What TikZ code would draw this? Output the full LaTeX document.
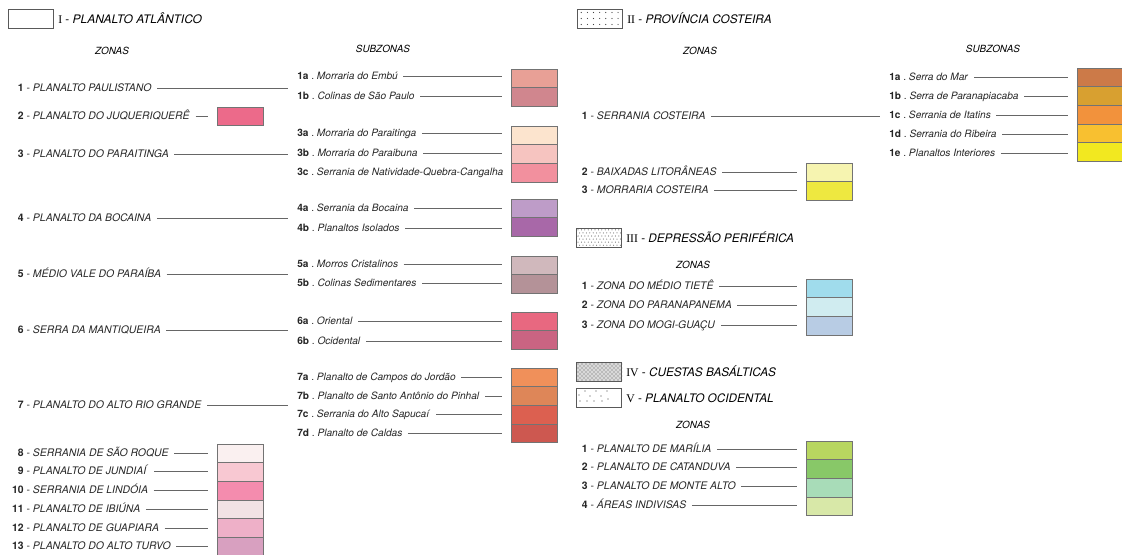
\documentclass[tikz,border=0pt]{standalone}
\usepackage{fontspec}
\setmainfont{TeX Gyre Heros}
\newfontfamily\romfont{Liberation Serif}
\usetikzlibrary{positioning,patterns}

% cores das unidades
\definecolor{cIa}{RGB}{232,160,150}
\definecolor{cIb}{RGB}{208,134,142}
\definecolor{cIdois}{RGB}{236,106,138}
\definecolor{cIIIa}{RGB}{252,228,206}
\definecolor{cIIIb}{RGB}{246,196,192}
\definecolor{cIIIc}{RGB}{242,144,158}
\definecolor{cIVa}{RGB}{190,156,200}
\definecolor{cIVb}{RGB}{168,104,168}
\definecolor{cVa}{RGB}{208,184,188}
\definecolor{cVb}{RGB}{180,146,152}
\definecolor{cVIa}{RGB}{232,104,128}
\definecolor{cVIb}{RGB}{202,100,130}
\definecolor{cVIIa}{RGB}{240,144,90}
\definecolor{cVIIb}{RGB}{222,134,88}
\definecolor{cVIIc}{RGB}{220,96,80}
\definecolor{cVIId}{RGB}{205,88,80}
\definecolor{cVIII}{RGB}{250,240,240}
\definecolor{cIX}{RGB}{248,200,210}
\definecolor{cX}{RGB}{244,140,174}
\definecolor{cXI}{RGB}{242,226,228}
\definecolor{cXII}{RGB}{238,176,200}
\definecolor{cXIII}{RGB}{216,160,192}
\definecolor{kIa}{RGB}{204,122,72}
\definecolor{kIb}{RGB}{216,160,48}
\definecolor{kIc}{RGB}{242,146,60}
\definecolor{kId}{RGB}{248,192,48}
\definecolor{kIe}{RGB}{242,232,32}
\definecolor{kIIdois}{RGB}{246,244,176}
\definecolor{kIItres}{RGB}{238,232,64}
\definecolor{dI}{RGB}{160,220,236}
\definecolor{dII}{RGB}{208,236,240}
\definecolor{dIII}{RGB}{184,204,228}
\definecolor{oI}{RGB}{184,214,96}
\definecolor{oII}{RGB}{136,200,104}
\definecolor{oIII}{RGB}{168,220,184}
\definecolor{oIV}{RGB}{216,232,168}

\newcommand{\zn}[2]{\makebox[8.6pt][r]{\bfseries #1}\ -\ \textit{#2}}
\newcommand{\szn}[2]{{\bfseries #1}\ .\ \textit{#2}}
\newcommand{\prov}[2]{{\romfont #1}\ -\ \textit{#2}}

\tikzset{
  zona/.style={anchor=west, inner sep=0pt, text height=5.5pt, text depth=0pt,
    font=\fontsize{7.8}{9}\selectfont, text=black!85},
  subz/.style={zona, font=\fontsize{7.6}{9}\selectfont},
  head/.style={anchor=west, inner sep=0pt, text height=6.4pt, text depth=0pt,
    font=\fontsize{8.8}{10}\selectfont},
  coltitle/.style={inner sep=0pt, font=\fontsize{7.4}{9}\selectfont\itshape},
  swatch/.style={draw=black!55, line width=0.4pt, anchor=north west,
    minimum width=34.5pt, minimum height=14pt, inner sep=0pt, outer sep=0pt},
  key/.style={draw=black!65, line width=0.5pt, anchor=north west,
    minimum width=34pt, minimum height=14.25pt, inner sep=0pt},
  leader/.style={draw=black!60, line width=0.45pt, shorten <=4pt, shorten >=6.75pt}
}

\begin{document}
\begin{tikzpicture}[x=0.75pt,y=-0.75pt]
\useasboundingbox (0,0) rectangle (1122,554);

% ---------------- I - Planalto Atlantico
\node[key] (kI) at (8,9) {};
\node[head, right=3pt of kI] (hI) {{\romfont I}\ -\ \resizebox{97pt}{\height}{\itshape PLANALTO ATLÂNTICO}};
\node[coltitle] (zI) at (112,51) {ZONAS};
\node[coltitle] (sI) at (383,49) {SUBZONAS};

% zonas
\node[zona] (z1) at (12,88) {\zn{1}{PLANALTO PAULISTANO}};
\node[zona] (z2) at (12,116) {\zn{2}{PLANALTO DO JUQUERIQUERÊ}};
\node[zona] (z3) at (12,154) {\zn{3}{PLANALTO DO PARAITINGA}};
\node[zona] (z4) at (12,218) {\zn{4}{PLANALTO DA BOCAINA}};
\node[zona] (z5) at (12,274) {\zn{5}{MÉDIO VALE DO PARAÍBA}};
\node[zona] (z6) at (12,330) {\zn{6}{SERRA DA MANTIQUEIRA}};
\node[zona] (z7) at (12,405) {\zn{7}{PLANALTO DO ALTO RIO GRANDE}};
\node[zona] (z8) at (12,453) {\zn{8}{SERRANIA DE SÃO ROQUE}};
\node[zona] (z9) at (12,471) {\zn{9}{PLANALTO DE JUNDIAÍ}};
\node[zona] (z10) at (12,490) {\zn{10}{SERRANIA DE LINDÓIA}};
\node[zona] (z11) at (12,509) {\zn{11}{PLANALTO DE IBIÚNA}};
\node[zona] (z12) at (12,528) {\zn{12}{PLANALTO DE GUAPIARA}};
\node[zona] (z13) at (12,546) {\zn{13}{PLANALTO DO ALTO TURVO}};

% subzonas
\node[subz] (s1a) at (297,76) {\szn{1a}{Morraria do Embú}};
\node[subz] (s1b) at (297,96) {\szn{1b}{Colinas de São Paulo}};
\node[subz] (s3a) at (297,133) {\szn{3a}{Morraria do Paraitinga}};
\node[subz] (s3b) at (297,153) {\szn{3b}{Morraria do Paraibuna}};
\node[subz] (s3c) at (297,172) {\szn{3c}{Serrania de Natividade-Quebra-Cangalha}};
\node[subz] (s4a) at (297,208) {\szn{4a}{Serrania da Bocaina}};
\node[subz] (s4b) at (297,228) {\szn{4b}{Planaltos Isolados}};
\node[subz] (s5a) at (297,264) {\szn{5a}{Morros Cristalinos}};
\node[subz] (s5b) at (297,283) {\szn{5b}{Colinas Sedimentares}};
\node[subz] (s6a) at (297,321) {\szn{6a}{Oriental}};
\node[subz] (s6b) at (297,341) {\szn{6b}{Ocidental}};
\node[subz] (s7a) at (297,377) {\szn{7a}{Planalto de Campos do Jordão}};
\node[subz] (s7b) at (297,396) {\szn{7b}{Planalto de Santo Antônio do Pinhal}};
\node[subz] (s7c) at (297,414) {\szn{7c}{Serrania do Alto Sapucaí}};
\node[subz] (s7d) at (297,433) {\szn{7d}{Planalto de Caldas}};

% caixas de cor
\node[swatch, fill=cIa] (b1a) at (511,69) {};
\node[swatch, fill=cIb] (b1b) at (b1a.south west) {};
\node[swatch, fill=cIdois] (b2) at (217,107) {};
\node[swatch, fill=cIIIa] (b3a) at (511,126) {};
\node[swatch, fill=cIIIb] (b3b) at (b3a.south west) {};
\node[swatch, fill=cIIIc] (b3c) at (b3b.south west) {};
\node[swatch, fill=cIVa] (b4a) at (511,199) {};
\node[swatch, fill=cIVb] (b4b) at (b4a.south west) {};
\node[swatch, fill=cVa] (b5a) at (511,256) {};
\node[swatch, fill=cVb] (b5b) at (b5a.south west) {};
\node[swatch, fill=cVIa] (b6a) at (511,312) {};
\node[swatch, fill=cVIb] (b6b) at (b6a.south west) {};
\node[swatch, fill=cVIIa] (b7a) at (511,368) {};
\node[swatch, fill=cVIIb] (b7b) at (b7a.south west) {};
\node[swatch, fill=cVIIc] (b7c) at (b7b.south west) {};
\node[swatch, fill=cVIId] (b7d) at (b7c.south west) {};
\node[swatch, fill=cVIII] (b8) at (217,444) {};
\node[swatch, fill=cIX] (b9) at (b8.south west) {};
\node[swatch, fill=cX] (b10) at (b9.south west) {};
\node[swatch, fill=cXI] (b11) at (b10.south west) {};
\node[swatch, fill=cXII] (b12) at (b11.south west) {};
\node[swatch, fill=cXIII] (b13) at (b12.south west) {};

% linhas
\draw[leader] (z1.east) -- (z1.east -| s1a.west);
\draw[leader] (z2.east) -- (z2.east -| b2.west);
\draw[leader] (z3.east) -- (z3.east -| s3b.west);
\draw[leader] (z4.east) -- (z4.east -| s4a.west);
\draw[leader] (z5.east) -- (z5.east -| s5a.west);
\draw[leader] (z6.east) -- (z6.east -| s6a.west);
\draw[leader] (z7.east) -- (z7.east -| s7a.west);
\foreach \n in {8,...,13}
  \draw[leader] (z\n.east) -- (z\n.east -| b\n.west);
\foreach \n in {1a,1b,3a,3b,4a,4b,5a,5b,6a,6b,7a,7b,7c,7d}
  \draw[leader] (s\n.east) -- (s\n.east -| b\n.west);

% ---------------- II - Provincia Costeira
\node[key] (kII) at (577,9) {};
\foreach \i in {0,...,6}
  \foreach \j in {0,1,2}
    \fill[black!75] (kII.north west) ++(3.2pt+4.6pt*\i,-2.6pt-4.5pt*\j) circle (0.45pt);
\node[head, right=3pt of kII] (hII) {\prov{II}{PROVÍNCIA COSTEIRA}};
\node[coltitle] (zII) at (700,51) {ZONAS};
\node[coltitle] (sII) at (993,49) {SUBZONAS};

\node[zona] (c1) at (576,116) {\zn{1}{SERRANIA COSTEIRA}};
\node[zona] (c2) at (576,172) {\zn{2}{BAIXADAS LITORÂNEAS}};
\node[zona] (c3) at (576,190) {\zn{3}{MORRARIA COSTEIRA}};

\node[subz] (t1a) at (889,77) {\szn{1a}{Serra do Mar}};
\node[subz] (t1b) at (889,96) {\szn{1b}{Serra de Paranapiacaba}};
\node[subz] (t1c) at (889,115) {\szn{1c}{Serrania de Itatins}};
\node[subz] (t1d) at (889,134) {\szn{1d}{Serrania do Ribeira}};
\node[subz] (t1e) at (889,153) {\szn{1e}{Planaltos Interiores}};

\node[swatch, fill=kIa] (q1a) at (1077,68) {};
\node[swatch, fill=kIb] (q1b) at (q1a.south west) {};
\node[swatch, fill=kIc] (q1c) at (q1b.south west) {};
\node[swatch, fill=kId] (q1d) at (q1c.south west) {};
\node[swatch, fill=kIe] (q1e) at (q1d.south west) {};
\node[swatch, fill=kIIdois] (q2) at (806,163) {};
\node[swatch, fill=kIItres] (q3) at (q2.south west) {};

\draw[leader] (c1.east) -- (c1.east -| t1c.west);
\draw[leader] (c2.east) -- (c2.east -| q2.west);
\draw[leader] (c3.east) -- (c3.east -| q3.west);
\foreach \n in {1a,1b,1c,1d,1e}
  \draw[leader] (t\n.east) -- (t\n.east -| q\n.west);

% ---------------- III - Depressao Periferica
\node[key] (kIII) at (576,228) {};
\foreach \i in {0,...,12}
  \foreach \j in {0,...,5} {
    \pgfmathsetmacro\dx{1.5+2.55*\i+1.2*mod(\j,2)}
    \pgfmathsetmacro\dy{-1.4-2.3*\j}
    \fill[black!75] (kIII.north west) ++(\dx pt,\dy pt) circle (0.38pt);
  }
\node[head, right=3pt of kIII] (hIII) {\prov{III}{DEPRESSÃO PERIFÉRICA}};
\node[coltitle] (zIII) at (693,265) {ZONAS};

\node[zona] (d1) at (576,286) {\zn{1}{ZONA DO MÉDIO TIETÊ}};
\node[zona] (d2) at (576,305) {\zn{2}{ZONA DO PARANAPANEMA}};
\node[zona] (d3) at (576,325) {\zn{3}{ZONA DO MOGI-GUAÇU}};
\node[swatch, fill=dI] (e1) at (806,279) {};
\node[swatch, fill=dII] (e2) at (e1.south west) {};
\node[swatch, fill=dIII] (e3) at (e2.south west) {};
\foreach \n in {1,2,3}
  \draw[leader] (d\n.east) -- (d\n.east -| e\n.west);

% ---------------- IV - Cuestas Basalticas
\node[key, fill=black!15] (kIV) at (576,362) {};
\fill[pattern=crosshatch dots, pattern color=black!65] (kIV.north west) rectangle (kIV.south east);
\node[head, right=3pt of kIV] (hIV) {\prov{IV}{CUESTAS BASÁLTICAS}};

% ---------------- V - Planalto Ocidental
\node[key] (kV) at (576,388) {};
\foreach \p in {(3,7),(9,3),(14,8),(20,3),(25,8),(31,3),(4,13),(11,13),(18,13),(26,13),(32,11)}
  \fill[black!75] (kV.north west) ++\p circle (0.45pt);
\node[head, right=3pt of kV] (hV) {\prov{V}{PLANALTO OCIDENTAL}};
\node[coltitle] (zV) at (693,425) {ZONAS};

\node[zona] (w1) at (576,449) {\zn{1}{PLANALTO DE MARÍLIA}};
\node[zona] (w2) at (576,467) {\zn{2}{PLANALTO DE CATANDUVA}};
\node[zona] (w3) at (576,486) {\zn{3}{PLANALTO DE MONTE ALTO}};
\node[zona] (w4) at (576,505) {\zn{4}{ÁREAS INDIVISAS}};
\node[swatch, fill=oI] (v1) at (806,441) {};
\node[swatch, fill=oII] (v2) at (v1.south west) {};
\node[swatch, fill=oIII] (v3) at (v2.south west) {};
\node[swatch, fill=oIV] (v4) at (v3.south west) {};
\foreach \n in {1,...,4}
  \draw[leader] (w\n.east) -- (w\n.east -| v\n.west);
\end{tikzpicture}
\end{document}
